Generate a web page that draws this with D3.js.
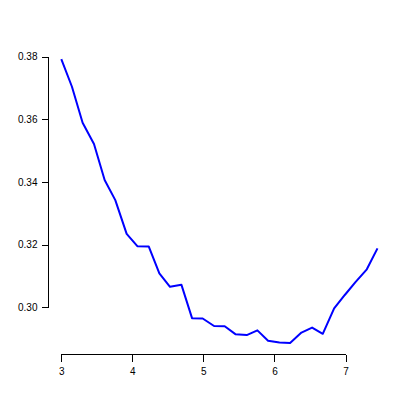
<!DOCTYPE html>
<head>
  <meta charset="utf-8">
  <script src="https://d3js.org/d3.v7.min.js"></script>
  <style>
    body { margin:0; background:#fff; }
    .line { fill:none; stroke:#0000ff; stroke-width:2px; stroke-linejoin:round; }
    .axis path, .axis line { stroke:#000; shape-rendering:crispEdges; }
    .axis text { font-family:"Liberation Sans", Arial, sans-serif; font-size:10px; fill:#000; }
  </style>
</head>
<body>
  <div id="chart"></div>
  <script>
    // values
    var xVals = [3.00, 3.15, 3.30, 3.46, 3.61, 3.76, 3.92, 4.07, 4.23, 4.38,
                 4.53, 4.69, 4.84, 4.99, 5.15, 5.30, 5.45, 5.61, 5.76, 5.91,
                 6.07, 6.22, 6.38, 6.53, 6.68, 6.84, 6.99, 7.14, 7.30, 7.45];
    var yVals = [0.3792, 0.3704, 0.3589, 0.3521, 0.3406, 0.3342, 0.3234, 0.3195, 0.3194, 0.3108,
                 0.3065, 0.3072, 0.2965, 0.2964, 0.2940, 0.2939, 0.2914, 0.2911, 0.2926, 0.2893,
                 0.2887, 0.2886, 0.2919, 0.2935, 0.2915, 0.2996, 0.3039, 0.3080, 0.3121, 0.3188];
    var xTicks = [3, 4, 5, 6, 7];
    var yTicks = [0.30, 0.32, 0.34, 0.36, 0.38];

    var width = 415, height = 415;

    var svg = d3.select("#chart").append("svg")
      .attr("width", width)
      .attr("height", height)

    var x = d3.scaleLinear().domain([3, 7]).range([61.3, 345.5]);
    var y = d3.scaleLinear().domain([0.30, 0.38]).range([307.2, 56.7]);

    var data = xVals.map(function(d, i) { return {x: d, y: yVals[i]}; });

    var line = d3.line()
      .x(function(d) { return x(d.x); })
      .y(function(d) { return y(d.y); })

    svg.append("path")
      .datum(data)
      .attr("class", "line")
      .attr("d", line)

    // R style axes: line only spans first to last tick
    var xAxis = svg.append("g")
      .attr("class", "axis")
      .attr("transform", "translate(0,354.5)")
      .call(d3.axisBottom(x).tickValues(xTicks).tickSize(7).tickSizeOuter(0).tickPadding(6)
        .tickFormat(d3.format("d")))
    xAxis.select(".domain").attr("d", "M" + x(3) + ",0H" + x(7));

    var yAxis = svg.append("g")
      .attr("class", "axis")
      .attr("transform", "translate(48.5,0)")
      .call(d3.axisLeft(y).tickValues(yTicks).tickSize(7).tickSizeOuter(0).tickPadding(4)
        .tickFormat(d3.format(".2f")))
    yAxis.select(".domain").attr("d", "M0," + y(0.30) + "V" + y(0.38));
  </script>
</body>
